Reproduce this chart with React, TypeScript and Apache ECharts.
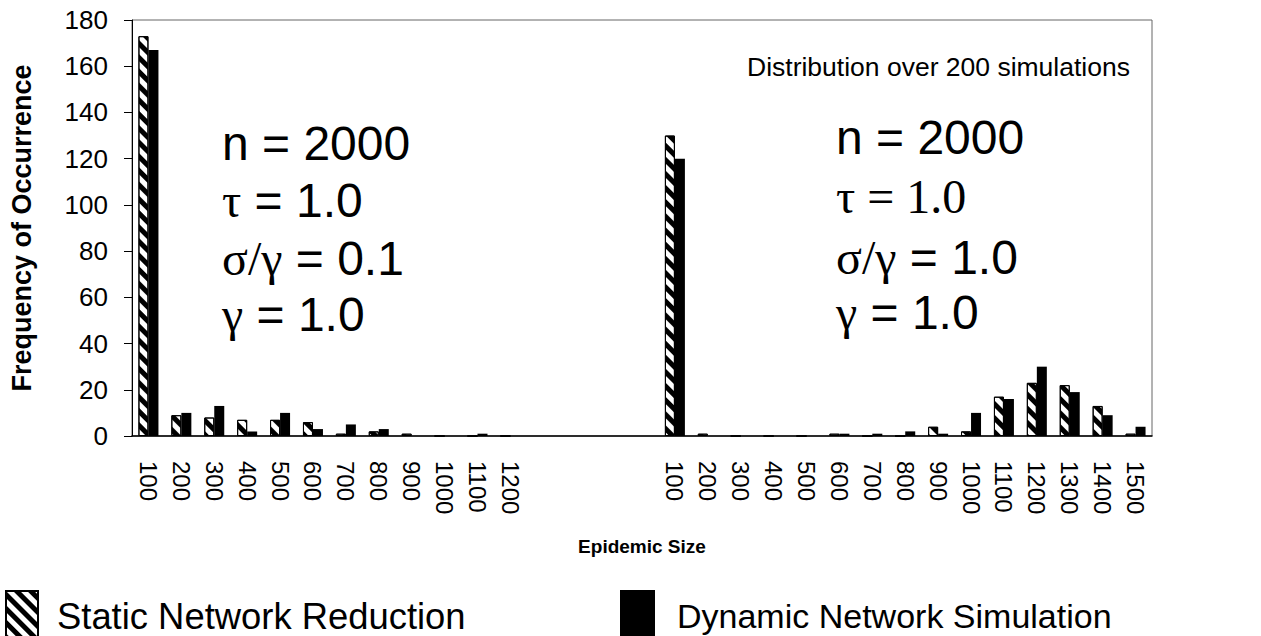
import React, { useEffect, useRef } from "react";
import * as echarts from "echarts";

const leftSizes = ["100", "200", "300", "400", "500", "600", "700", "800", "900", "1000", "1100", "1200"];
const gapSlots = ["", "", "", ""];
const rightSizes = ["100", "200", "300", "400", "500", "600", "700", "800", "900", "1000", "1100", "1200", "1300", "1400", "1500"];

const staticLeft = [173, 9, 8, 7, 7, 6, 1, 2, 1, 0, 0, 0];
const dynamicLeft = [167, 10, 13, 2, 10, 3, 5, 3, 0, 0, 1, 0];
const staticRight = [130, 1, 0, 0, 0, 1, 0, 0, 4, 2, 17, 23, 22, 13, 1];
const dynamicRight = [120, 0, 0, 0, 0, 1, 1, 2, 1, 10, 16, 30, 19, 9, 4];

const yTicks = { min: 0, max: 180, interval: 20 };

const SANS = "Liberation Sans, Arial, sans-serif";
const SERIF = "Liberation Serif, Times New Roman, serif";

export default function App() {
  const ref = useRef<HTMLDivElement>(null);
  useEffect(() => {
    document.body.style.margin = "0";
    const chart = echarts.init(ref.current!, null, { renderer: "svg" });
    const categories = [...leftSizes, ...gapSlots, ...rightSizes];
    const gapNull = gapSlots.map(() => null);
    const staticData = [...staticLeft, ...gapNull, ...staticRight];
    const dynamicData = [...dynamicLeft, ...gapNull, ...dynamicRight];

    const stripe = {
      symbol: "rect",
      symbolSize: 1,
      color: "#000",
      backgroundColor: "#fff",
      dashArrayX: [1, 0],
      dashArrayY: [4.5, 4.5],
      rotation: Math.PI / 4,
    };

    const greek = { fontFamily: SERIF, fontSize: 48, color: "#000" };
    const annot = (x: number, y: number, text: string, family = SANS) => ({
      type: "text",
      x,
      y,
      style: {
        text,
        fontFamily: family,
        fontSize: 48,
        fill: "#000",
        verticalAlign: "middle",
        rich: { g: greek },
      },
    });

    chart.setOption({
      animation: false,
      backgroundColor: "#fff",
      textStyle: { fontFamily: SANS },
      grid: {
        left: 126,
        right: 109,
        top: 20,
        bottom: 200,
        show: true,
        borderColor: "#666",
        borderWidth: 1,
        containLabel: false,
      },
      legend: [
        {
          data: ["Static Network Reduction"],
          left: 0,
          top: 585,
          icon: "rect",
          itemWidth: 32,
          itemHeight: 51,
          selectedMode: false,
          textStyle: { fontSize: 36.4, fontFamily: SANS, color: "#000", padding: [0, 0, 0, 14] },
        },
        {
          data: ["Dynamic Network Simulation"],
          left: 615,
          top: 585,
          icon: "rect",
          itemWidth: 35,
          itemHeight: 51,
          selectedMode: false,
          textStyle: { fontSize: 34, fontFamily: SANS, color: "#000", padding: [0, 0, 0, 17] },
        },
      ],
      xAxis: {
        type: "category",
        data: categories,
        name: "Epidemic Size",
        nameLocation: "middle",
        nameGap: 101,
        nameTextStyle: { fontSize: 19, fontWeight: "bold", color: "#000", fontFamily: SANS },
        axisLine: { lineStyle: { color: "#000", width: 1.5 } },
        axisTick: { show: false },
        axisLabel: {
          interval: 0,
          rotate: -90,
          fontSize: 24,
          color: "#000",
          margin: 25,
          fontFamily: SANS,
        },
      },
      yAxis: {
        type: "value",
        min: yTicks.min,
        max: yTicks.max,
        interval: yTicks.interval,
        name: "Frequency of Occurrence",
        nameLocation: "middle",
        nameGap: 97,
        nameTextStyle: { fontSize: 27, fontWeight: "bold", color: "#000", fontFamily: SANS },
        axisLine: { show: true, lineStyle: { color: "#000", width: 1 } },
        axisTick: { show: true, length: 8, lineStyle: { color: "#000" } },
        axisLabel: { fontSize: 26, color: "#000", margin: 24, fontFamily: SANS },
        splitLine: { show: false },
      },
      series: [
        {
          name: "Static Network Reduction",
          type: "bar",
          data: staticData,
          barWidth: 10,
          barGap: "0%",
          itemStyle: { color: "#fff", borderColor: "#000", borderWidth: 1, decal: stripe },
        },
        {
          name: "Dynamic Network Simulation",
          type: "bar",
          data: dynamicData,
          barWidth: 10,
          barGap: "0%",
          itemStyle: { color: "#000" },
        },
      ],
      graphic: [
        {
          type: "text",
          x: 747,
          y: 67,
          style: {
            text: "Distribution over 200 simulations",
            fontFamily: SANS,
            fontSize: 26.5,
            fill: "#000",
            verticalAlign: "middle",
          },
        },
        annot(222, 143, "n = 2000"),
        annot(222, 200, "{g|τ} = 1.0"),
        annot(222, 258, "{g|σ/γ} = 0.1"),
        annot(222, 314, "{g|γ} = 1.0"),
        annot(836, 137, "n = 2000"),
        annot(836, 196, "τ = 1.0", SERIF),
        annot(836, 257, "{g|σ/γ} = 1.0"),
        annot(836, 312, "{g|γ} = 1.0"),
      ],
    });
    return () => chart.dispose();
  }, []);
  return <div ref={ref} style={{ width: 1261, height: 636 }} />;
}
